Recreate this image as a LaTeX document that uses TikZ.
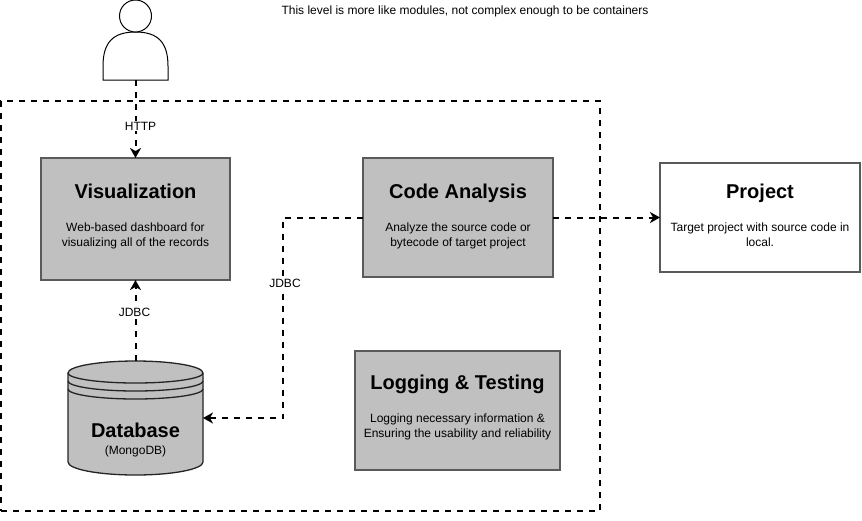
\documentclass[tikz,border=0pt]{standalone}
\usepackage{fontspec}
\setmainfont{Liberation Sans}
\usepackage{xcolor}
\usetikzlibrary{arrows.meta, shapes.geometric, positioning}
\definecolor{boxgrey}{RGB}{192,192,192}
\definecolor{edgegrey}{RGB}{90,90,90}
\tikzset{
  basebox/.style={
    rectangle, draw=edgegrey, line width=1.5pt, align=center, inner sep=0pt, outer sep=0pt,
    font=\fontsize{12}{15.5}\selectfont
  },
  modulebox/.style={basebox, fill=boxgrey},
  targetbox/.style={basebox, fill=white},
  outline/.style={draw=black, line width=1pt},
  dashedarrow/.style={-{Stealth[length=10pt,width=11pt,inset=3pt]}, black, line width=2pt, dash pattern=on 6pt off 6pt},
  boundary/.style={draw=black, line width=2pt, dash pattern=on 6pt off 6pt},
  edgelabel/.style={fill=white, inner sep=1pt, font=\fontsize{12}{14}\selectfont}
}
\newcommand{\boxtitle}[1]{{\fontsize{20}{24}\selectfont\bfseries\rule{0pt}{26pt}#1}\\[17pt]}

\begin{document}
\begin{tikzpicture}[x=1pt, y=-1pt]
  \useasboundingbox (0,0) rectangle (862,520);
  \node[font=\fontsize{12}{14}\selectfont] (note) at (465,11.5)
        {This level is more like modules, not complex enough to be containers};
  \node[boundary, rectangle, minimum width=599pt, minimum height=410pt, outer sep=0pt] (system) at (300.5,306) {};

  % person
  \node[minimum width=65pt, minimum height=80pt, inner sep=0pt, outer sep=0pt] (user) at (135.5,40) {};
  \draw[outline, fill=white] (user.south west) -- ++(0,-14) .. controls +(0,-24) and +(-22,0) .. (135.5,32)
        .. controls +(22,0) and +(0,-24) .. (168,66) -- (user.south east) -- cycle;
  \draw[outline, fill=white] (135.5,16) circle (16);

  \node[modulebox, minimum width=189pt, minimum height=122pt] (vis) at (135.5,219)
        {\boxtitle{Visualization}Web-based dashboard for\\visualizing all of the records\\[3pt]};
  \node[modulebox, minimum width=190pt, minimum height=119pt] (code) at (458,217.5)
        {\boxtitle{Code Analysis}Analyze the source code or\\bytecode of target project\\[0pt]};
  \node[targetbox, minimum width=200pt, minimum height=109pt] (project) at (760,217.5)
        {\boxtitle{Project}Target project with source code in\\local.\\[0pt]};
  \node[modulebox, minimum width=205pt, minimum height=119pt] (logging) at (457.5,410.5)
        {\boxtitle{Logging \& Testing}Logging necessary information \&\\Ensuring the usability and reliability\\[4pt]};

  % database
  \node[minimum width=135pt, minimum height=114pt, inner sep=0pt, outer sep=0pt] (db) at (135.5,418) {};
  \draw[outline, draw=edgegrey!40!black, fill=boxgrey, line width=1.3pt] (68,373) arc[start angle=180, end angle=360, x radius=67.5, y radius=12]
        -- (203,462) arc[start angle=0, end angle=180, x radius=67.5, y radius=13] -- cycle;
  \foreach \yarc in {373,381,389}
    \draw[outline, draw=edgegrey!40!black, line width=1.3pt] (68,\yarc) arc[start angle=180, end angle=0, x radius=67.5, y radius=10];
  \node[align=center, font=\fontsize{12}{14}\selectfont] (dbtext) at (135.5,440)
        {{\fontsize{20}{22}\selectfont\bfseries Database}\\[3pt](MongoDB)};

  \coordinate (bend) at (283,283);

  \draw[dashedarrow] (user.south) -- node[edgelabel, pos=0.59, xshift=5pt] (http) {HTTP} (vis.north);
  \draw[dashedarrow] (db.north) -- node[edgelabel, pos=0.6, xshift=-1pt] (jdbcvis) {JDBC} (vis.south);
  \draw[dashedarrow] (code.west) -| (bend) node[edgelabel, xshift=2pt] (jdbcdb) {JDBC} |- (db.east);
  \draw[dashedarrow] (code.east) -- (project.west);
\end{tikzpicture}
\end{document}
